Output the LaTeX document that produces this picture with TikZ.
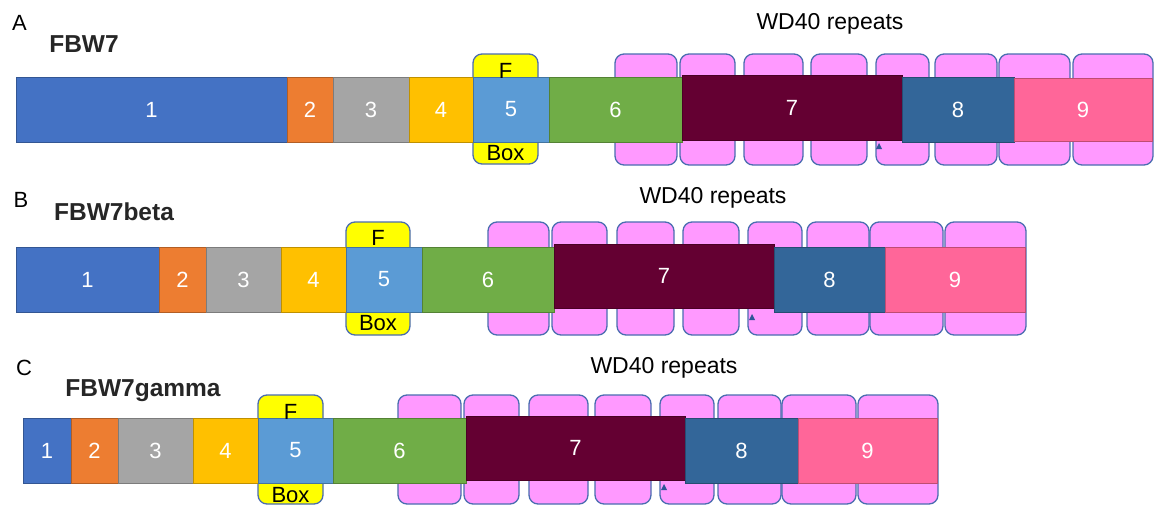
\documentclass[tikz,border=0pt]{standalone}
\usepackage{fontspec}
\setmainfont{Liberation Sans}
\definecolor{cA}{HTML}{4472C4}
\definecolor{cB}{HTML}{ED7D31}
\definecolor{cC}{HTML}{A5A5A5}
\definecolor{cD}{HTML}{FFC000}
\definecolor{cE}{HTML}{5B9BD5}
\definecolor{cF}{HTML}{70AD47}
\definecolor{cG}{HTML}{640032}
\definecolor{cH}{HTML}{336699}
\definecolor{cI}{HTML}{FF6699}
\definecolor{wdpink}{HTML}{FF99FF}
\definecolor{fyellow}{HTML}{FFFF00}
\definecolor{wdline}{HTML}{4A6DB0}
\definecolor{trib}{HTML}{2F5597}
\definecolor{titlegray}{HTML}{262626}
\newcommand\segm[7]{%
  \node[segbox, fill=#6, draw=#6!75!black, minimum width={(#3-#2)*1pt}, minimum height={(#5-#4)*1pt}] (#1) at ({(#2+#3)/2},{(#4+#5)/2}) {#7};}
\tikzset{
  segbox/.style={rectangle, inner sep=0pt, outer sep=0pt, line width=0.8pt, text=white, font=\fontsize{22}{26}\selectfont},
  wdbox/.style={rounded corners=9pt, fill=wdpink, draw=wdline, line width=1.3pt},
  fbox/.style={rounded corners=9pt, fill=fyellow, draw=wdline, line width=1.3pt},
  ftext/.style={font=\fontsize{22}{26}\selectfont, text=black, inner sep=0pt},
  paneltag/.style={font=\fontsize{22}{26}\selectfont, text=black, inner sep=0pt},
  protname/.style={font=\fontsize{24.5}{28}\selectfont\bfseries, text=titlegray, inner sep=0pt},
  wdlabel/.style={font=\fontsize{23}{27}\selectfont, text=black, inner sep=0pt},
  tri/.style={fill=trib}
}
\begin{document}
\begin{tikzpicture}[x=1pt,y=-1pt]
\useasboundingbox (0,0) rectangle (1156,506);
\fill[white] (0,0) rectangle (1156,506);
% ---------------- Panel A ----------------
\node[paneltag] (tagA) at (19.5,23) {A};
\node[protname] (nameA) at (84,44) {FBW7};
\node[wdlabel] (wdA) at (830,24) {WD40 repeats};
\foreach \a/\b in {615/677,680/735,744/803,811/867,876/929,935/997,999/1070,1073/1153}
  \draw[wdbox] (\a,54) rectangle (\b,165);
\draw[fbox] (473,54) rectangle (538,164);
\segm{A1}{16}{287}{77}{142}{cA}{1}
\segm{A2}{287}{333}{77}{142}{cB}{2}
\segm{A3}{333}{409}{77}{142}{cC}{3}
\segm{A4}{409}{473}{77}{142}{cD}{4}
\segm{A5}{473}{549}{77}{142}{cE}{5}
\segm{A6}{549}{682}{77}{142}{cF}{6}
\segm{A7}{682}{902}{75.5}{140}{cG}{7}
\segm{A8}{902}{1014}{77}{142}{cH}{8}
\segm{A9}{1014}{1152}{78}{141}{cI}{9}
\node[ftext] (FA) at (505.5,71) {F};
\node[ftext] (BoxA) at (505.5,153) {Box};
\fill[tri] (876,149) -- (882,149) -- (879,143) -- cycle;
% ---------------- Panel B ----------------
\node[paneltag] (tagB) at (21,200) {B};
\node[protname] (nameB) at (114,212) {FBW7beta};
\node[wdlabel] (wdB) at (713,198) {WD40 repeats};
\foreach \a/\b in {488/549,552/607,617/674,683/739,748/802,807/869,870/943,945/1026}
  \draw[wdbox] (\a,222) rectangle (\b,335);
\draw[fbox] (346,222) rectangle (410,335);
\segm{B1}{16}{159}{247}{312}{cA}{1}
\segm{B2}{159}{206}{247}{312}{cB}{2}
\segm{B3}{206}{281}{247}{312}{cC}{3}
\segm{B4}{281}{346}{247}{312}{cD}{4}
\segm{B5}{346}{422}{247}{312}{cE}{5}
\segm{B6}{422}{554}{247}{312}{cF}{6}
\segm{B7}{554}{774}{244}{308}{cG}{7}
\segm{B8}{774}{885}{247}{312}{cH}{8}
\segm{B9}{885}{1025}{247}{312}{cI}{9}
\node[ftext] (FB) at (378,238) {F};
\node[ftext] (BoxB) at (378,323) {Box};
\fill[tri] (749,320) -- (755,320) -- (752,314) -- cycle;
% ---------------- Panel C ----------------
\node[paneltag] (tagC) at (24,368) {C};
\node[protname] (nameC) at (143,391) {FBW7gamma};
\node[wdlabel] (wdC) at (664,368) {WD40 repeats};
\foreach \a/\b in {398/461,464/519,529/588,595/651,660/714,718/781,782/856,858/938}
  \draw[wdbox] (\a,395) rectangle (\b,504);
\draw[fbox] (258,395) rectangle (323,504);
\segm{C1}{23}{71}{418}{483}{cA}{1}
\segm{C2}{71}{118}{418}{483}{cB}{2}
\segm{C3}{118}{193}{418}{483}{cC}{3}
\segm{C4}{193}{258}{418}{483}{cD}{4}
\segm{C5}{258}{333}{418}{483}{cE}{5}
\segm{C6}{333}{466}{418}{483}{cF}{6}
\segm{C7}{466}{685}{416}{480}{cG}{7}
\segm{C8}{685}{798}{418}{483}{cH}{8}
\segm{C9}{798}{937}{418}{483}{cI}{9}
\node[ftext] (FC) at (290.5,412) {F};
\node[ftext] (BoxC) at (290.5,495) {Box};
\fill[tri] (661,490) -- (667,490) -- (664,484) -- cycle;
\end{tikzpicture}
\end{document}
